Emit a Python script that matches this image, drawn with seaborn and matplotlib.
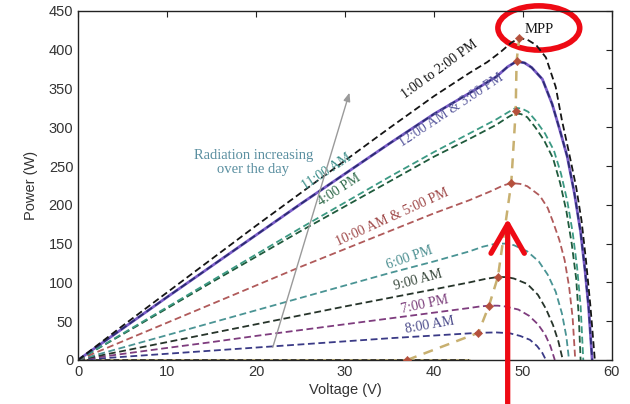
import numpy as np
import pandas as pd
import seaborn as sns
import matplotlib.pyplot as plt
from matplotlib.patches import Ellipse

# P-V curves (voltage V, power W)
v_1to2pm = [0, 5, 10, 15, 20, 25, 30, 35, 40, 44, 46, 47.5, 48.7, 49.6, 50.5, 51.5, 52.6, 53.7, 54.4, 55.2, 56.0, 56.6, 57.1, 57.6, 58.1]
p_1to2pm = [0, 44, 87, 130, 173, 215, 257, 299, 340, 370, 384, 397, 409, 415, 413, 406, 390, 352, 309, 267, 223, 180, 129, 70, 0]

v_12am3pm = [0, 5, 10, 15, 20, 25, 30, 35, 40, 44, 47, 48.3, 49.3, 50.2, 51, 52.2, 53.3, 54.2, 55, 55.8, 56.5, 57, 57.4, 57.8]
p_12am3pm = [0, 40.5, 81, 121, 161, 201, 240, 279, 317, 344, 365, 378, 385, 383, 377, 362, 330, 295, 262, 215, 165, 115, 68, 0]

v_11am = [0, 5, 10, 15, 20, 25, 30, 35, 40, 44, 47, 48.3, 49.2, 49.9, 50.6, 51.5, 52.5, 53.5, 54.3, 55, 55.6, 56.1, 56.5, 56.8]
p_11am = [0, 34, 68, 102, 136, 170, 203, 236, 268, 292, 310, 319, 325, 324, 320, 308, 292, 270, 240, 205, 165, 120, 70, 0]

v_4pm = [0, 5, 10, 15, 20, 25, 30, 35, 40, 44, 47, 48.2, 49.1, 49.8, 50.5, 51.4, 52.4, 53.4, 54.2, 54.9, 55.5, 56, 56.3, 56.5]
p_4pm = [0, 33, 66.5, 100, 133, 166, 198, 230, 262, 285, 303, 312, 318, 317, 313, 300, 283, 260, 228, 192, 150, 105, 55, 0]

v_10am5pm = [0, 5, 10, 15, 20, 25, 30, 35, 40, 44, 46.5, 47.8, 48.7, 49.7, 50.5, 51.9, 52.8, 53.4, 54.1, 54.7, 55.2, 55.6, 55.9]
p_10am5pm = [0, 24, 48, 72, 96, 120, 143, 166, 189, 206, 218, 225, 228, 227, 224, 212, 196, 178, 155, 129, 95, 55, 0]

v_6pm = [0, 5, 10, 15, 20, 25, 30, 35, 40, 44, 45.5, 47, 48, 49, 50.5, 51.8, 52.8, 53.7, 54.4, 54.9, 55.2]
p_6pm = [0, 16, 32, 48, 64, 80, 96, 112, 127, 140, 146, 150, 150, 148, 140, 127, 110, 88, 60, 30, 0]

v_9am = [0, 5, 10, 15, 20, 25, 30, 35, 40, 44, 45.8, 47.2, 48.2, 49, 50.5, 51.7, 52.6, 53.4, 54, 54.5]
p_9am = [0, 11.5, 23, 34.5, 46, 57.5, 69, 80, 91, 100, 104.5, 107, 106.8, 105, 98, 84, 66, 45, 24, 0]

v_7pm = [0, 5, 10, 15, 20, 25, 30, 35, 40, 44, 45.2, 46.2, 47.2, 48, 49.5, 50.7, 51.7, 52.5, 53.1, 53.6]
p_7pm = [0, 7.8, 15.5, 23, 31, 38.5, 46, 53.5, 61, 67, 69, 70, 70, 69, 65, 57, 46, 33, 18, 0]

v_8am = [0, 5, 10, 15, 20, 25, 30, 35, 40, 45, 47, 48.5, 49.7, 50.8, 51.6, 52.2, 52.6]
p_8am = [0, 4, 8, 12, 16, 20, 24, 28, 31.5, 35, 35.5, 34.5, 31, 26, 18, 9, 0]

v_night = [0, 44]
p_night = [0, 0]

# maximum power points
v_mpp = [37, 45, 46.2, 47.2, 48.7, 49.2, 49.3, 49.6]
p_mpp = [0, 35, 70, 107, 228, 321, 385, 415]

curve_labels = ["1:00 to 2:00 PM", "12:00 AM & 3:00 PM", "11:00 AM", "4:00 PM",
                "10:00 AM & 5:00 PM", "6:00 PM", "9:00 AM", "7:00 PM", "8:00 AM"]

sns.set_style("white")
plt.rcParams['font.family'] = ['Liberation Sans', 'DejaVu Sans']
plt.rcParams['lines.dashed_pattern'] = [3.8, 2.0]

fig = plt.figure(figsize=(6.3, 4.04), dpi=100)
ax = fig.add_axes([0.124, 0.109, 0.847, 0.864])

curves = [
    (v_8am, p_8am, '#3a3a86'),
    (v_7pm, p_7pm, '#7e3c7e'),
    (v_9am, p_9am, '#26342a'),
    (v_6pm, p_6pm, '#4a9494'),
    (v_10am5pm, p_10am5pm, '#b05a5a'),
    (v_4pm, p_4pm, '#1f5a3c'),
    (v_11am, p_11am, '#3c9a84'),
    (v_12am3pm, p_12am3pm, '#2c2c72'),
    (v_1to2pm, p_1to2pm, '#151515'),
]

sns.lineplot(x=v_night, y=p_night, ax=ax, color='#c8b878', lw=2.0)
sns.lineplot(x=v_night, y=p_night, ax=ax, color='#222222', lw=1.1, linestyle='--')
# solid purple trace under the 12:00 AM / 3:00 PM dashed one
sns.lineplot(x=v_12am3pm, y=p_12am3pm, ax=ax, color='#7a5cc8', lw=2.0, sort=False, estimator=None)
for v, p, c in curves:
    sns.lineplot(x=v, y=p, ax=ax, color=c, lw=1.3, linestyle='--', sort=False, estimator=None)

sns.lineplot(x=v_mpp, y=p_mpp, ax=ax, color='#c8b070', lw=1.8, linestyle=(0, (4, 3)),
             sort=False, estimator=None)
sns.scatterplot(x=v_mpp, y=p_mpp, ax=ax, color='#b5503c', marker='D', s=18,
                edgecolor='#b5503c', zorder=5)

# curve labels
serif = ['Liberation Serif', 'DejaVu Serif']
lab_pos = [(40.7, 375, 36, '#151515'), (42.0, 322, 33.5, '#5a5a9e'), (28.0, 243, 33, '#3c8e8a'),
           (29.4, 219, 33, '#2f6a4a'), (35.3, 184, 24.5, '#a04a4a'), (37.3, 132, 19, '#4a8e90'),
           (38.2, 103, 15, '#3a4a3e'), (39.0, 72, 12, '#7a3c7a'), (39.6, 45, 10, '#4a4a8a')]
for txt, (x, y, rot, c) in zip(curve_labels, lab_pos):
    ax.text(x, y, txt, rotation=rot, rotation_mode='anchor', ha='center', va='center',
            color=c, fontsize=10, family=serif)

ax.text(19.7, 254, "Radiation increasing\nover the day", ha='center', va='center',
        color='#5a8fa0', fontsize=10.5, family=serif, linespacing=1.1)
ax.annotate("", xy=(30.6, 348), xytext=(21.8, 13),
            arrowprops=dict(arrowstyle='-|>,head_length=0.5,head_width=0.2', color='#9a9a9a', lw=1.0))

ax.text(51.9, 426, "MPP", ha='center', va='center', fontsize=10.5, family=serif, color='#151515')
ax.add_patch(Ellipse((51.8, 428), 9.2, 57, fill=False, edgecolor='#ee0a14', lw=4, clip_on=False))

ax.annotate("", xy=(48.3, 182), xytext=(48.3, -60), annotation_clip=False,
            arrowprops=dict(arrowstyle='->,head_length=1.05,head_width=0.6', color='#ee0a14',
                            lw=3.8, mutation_scale=20, shrinkA=0, shrinkB=0))

ax.set_xlim(0, 60)
ax.set_ylim(0, 450)
ax.set_xticks(np.arange(0, 61, 10))
ax.set_yticks(np.arange(0, 451, 50))
ax.tick_params(direction='in', length=4, width=0.8, top=True, right=True,
               labelsize=10.5, labelcolor='#333333', color='#222222')
for s in ax.spines.values():
    s.set_color('#222222')
    s.set_linewidth(1.0)
ax.set_xlabel("Voltage (V)", fontsize=10.5, color='#333333', labelpad=3)
ax.set_ylabel("Power (W)", fontsize=10.5, color='#333333', labelpad=8)

fig.savefig("out.png", dpi=100)
